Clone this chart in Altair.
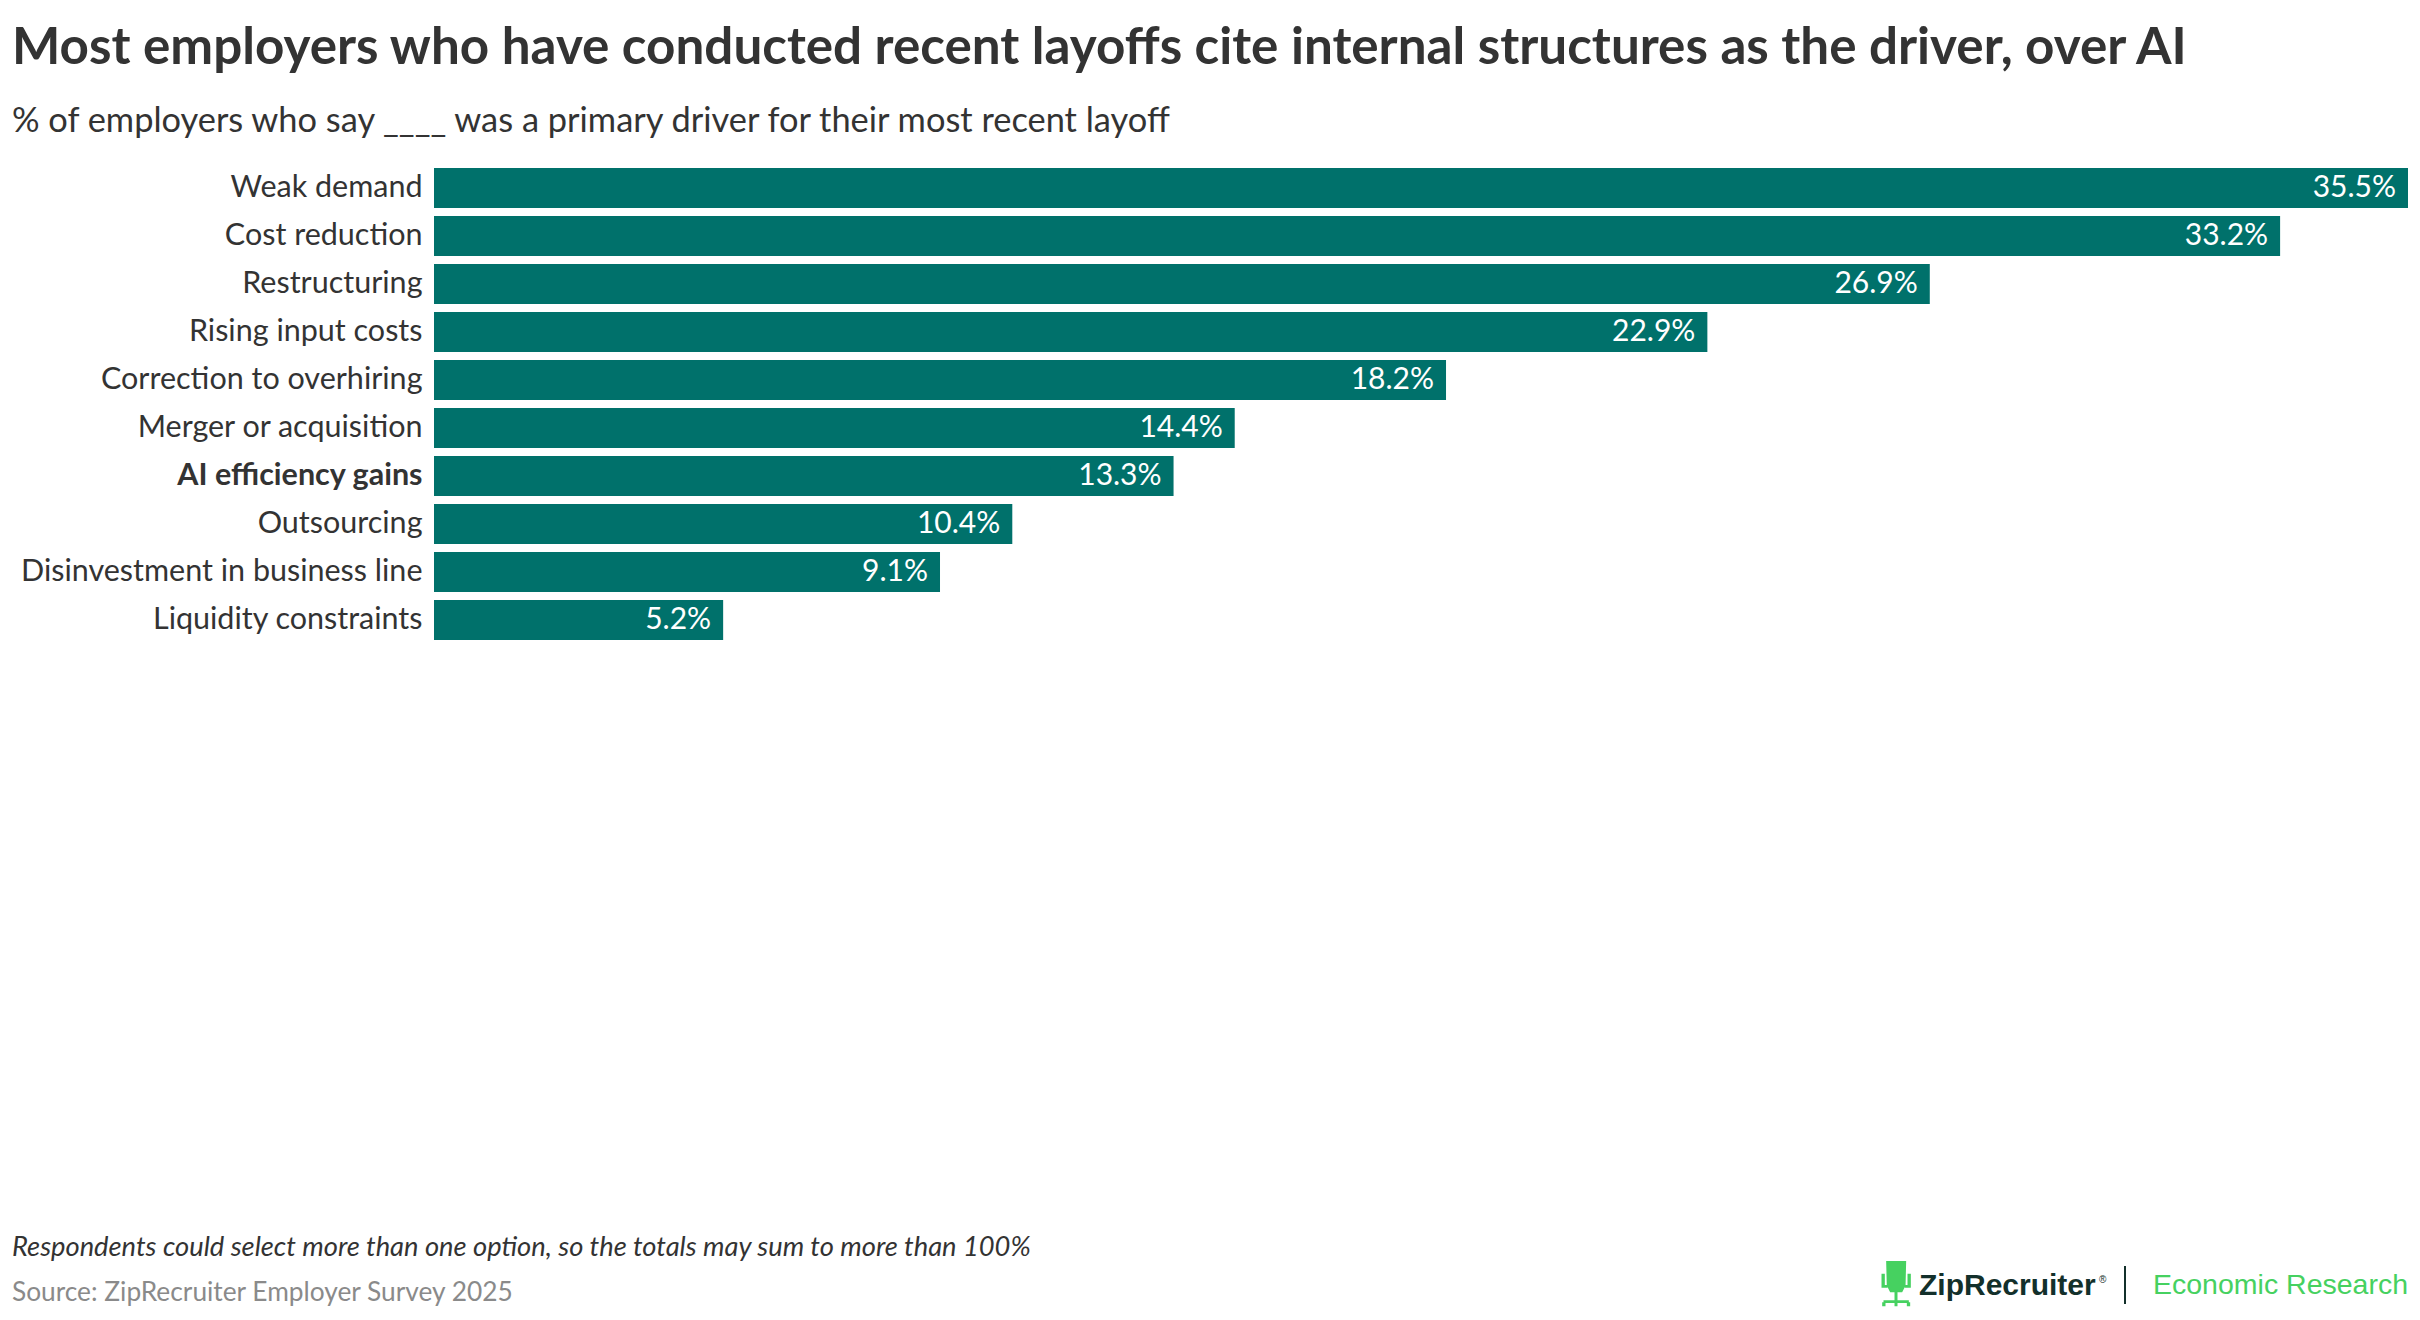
import altair as alt
import pandas as pd

# ---------------- data ----------------
CATEGORIES = [
    "Weak demand",
    "Cost reduction",
    "Restructuring",
    "Rising input costs",
    "Correction to overhiring",
    "Merger or acquisition",
    "AI efficiency gains",
    "Outsourcing",
    "Disinvestment in business line",
    "Liquidity constraints",
]
VALUES = [35.5, 33.2, 26.9, 22.9, 18.2, 14.4, 13.3, 10.4, 9.1, 5.2]
HIGHLIGHT = "AI efficiency gains"

TITLE = "Most employers who have conducted recent layoffs cite internal structures as the driver, over AI"
SUBTITLE = "% of employers who say ____ was a primary driver for their most recent layoff"
NOTE = "Respondents could select more than one option, so the totals may sum to more than 100%"
SOURCE = "Source: ZipRecruiter Employer Survey 2025"
BRAND = "ZipRecruiter"
REG = "®"
UNIT = "Economic Research"

# ---------------- style ----------------
FONT = "Lato"
LOGO_FONT = "Liberation Sans"
TEAL = "#00716b"
TEXT = "#333333"
GREY = "#8a8a8a"
GREEN = "#46d160"
DARK = "#13302b"

PLOT_W = 1974
PLOT_H = 480
PAD_L = 426
PAD_T = 156

CHAIR = (
    "M-0.428,-1 L0.442,-1 L0.413,0.13 L-0.399,0.13 Z "
    "M-0.37,0.13 L0.384,0.13 L0.268,0.362 L-0.254,0.362 Z "
    "M-0.63,-0.449 L-0.486,-0.449 L-0.486,0.043 L-0.37,0.043 L-0.37,0.159 L-0.63,0.159 Z "
    "M0.5,-0.449 L0.645,-0.449 L0.645,0.159 L0.384,0.159 L0.384,0.043 L0.5,0.043 Z "
    "M-0.065,0.362 L0.065,0.362 L0.065,0.739 L-0.065,0.739 Z "
    "M-0.543,0.71 L0.558,0.71 L0.558,0.826 L-0.543,0.826 Z "
    "M-0.601,0.797 L-0.457,0.797 L-0.457,0.971 L-0.601,0.971 Z "
    "M0.471,0.797 L0.616,0.797 L0.616,0.971 L0.471,0.971 Z "
    "M-0.065,0.826 L0.065,0.826 L0.065,0.971 L-0.065,0.971 Z"
)

df = pd.DataFrame({"cause": CATEGORIES, "share": VALUES})
df["label"] = [f"{v:.1f}%" for v in VALUES]

x = alt.X(
    "share:Q",
    scale=alt.Scale(domain=[0, max(VALUES)], nice=False, zero=True),
    axis=None,
)
y = alt.Y(
    "cause:N",
    sort=CATEGORIES,
    scale=alt.Scale(paddingInner=0.1667, paddingOuter=0.0833),
    axis=alt.Axis(
        title=None,
        ticks=False,
        domain=False,
        labelFont=FONT,
        labelFontSize=30.5,
        labelColor=TEXT,
        labelPadding=12,
        labelLimit=1000,
        labelFontWeight={
            "condition": {"test": f"datum.value === '{HIGHLIGHT}'", "value": "bold"},
            "value": "normal",
        },
    ),
)

bars = alt.Chart(df).mark_bar(color=TEAL).encode(x=x, y=y)
values = alt.Chart(df).mark_text(
    align="right", baseline="middle", dx=-12, color="white", fontSize=30, font=FONT
).encode(x=x, y=y, text="label:N")


def note(txt, px, py, **kw):
    return alt.Chart(pd.DataFrame({"t": [txt]})).mark_text(
        align="left", baseline="alphabetic", **kw
    ).encode(text="t:N", x=alt.value(px), y=alt.value(py))


note_l = note(NOTE, 12 - 434, 1256 - 164, font=FONT, fontSize=27.3, fontStyle="italic", color=TEXT)
source_l = note(SOURCE, 12 - 434, 1301 - 164, font=FONT, fontSize=26.3, color=GREY)
brand_l = note(BRAND, 1919 - 434, 1295 - 164, font=LOGO_FONT, fontSize=30, fontWeight="bold", color=DARK)
reg_l = note(REG, 2099 - 434, 1283 - 164, font=LOGO_FONT, fontSize=10, color=DARK)
unit_l = note(UNIT, 2153 - 434, 1294 - 164, font=LOGO_FONT, fontSize=28.5, color=GREEN)

chair = alt.Chart(pd.DataFrame({"t": [BRAND]})).mark_point(
    shape=CHAIR, size=2116, filled=True, color=GREEN, opacity=1, strokeWidth=0
).encode(x=alt.value(1896 - 434), y=alt.value(1284 - 164))

sep = alt.Chart(pd.DataFrame({"t": [BRAND]})).mark_rule(color=DARK, strokeWidth=2).encode(
    x=alt.value(2125 - 434), y=alt.value(1266 - 164), y2=alt.value(1304 - 164)
)

chart = (
    alt.layer(bars, values, note_l, source_l, chair, brand_l, reg_l, sep, unit_l)
    .properties(
        width=PLOT_W,
        height=PLOT_H,
        padding={"left": PAD_L, "top": PAD_T, "right": 4, "bottom": 1304 - PAD_T - PLOT_H},
        autosize="none",
        background="white",
        title=alt.TitleParams(
            text=TITLE,
            subtitle=SUBTITLE,
            anchor="start",
            frame="group",
            dx=12 - 434,
            offset=25,
            font=FONT,
            fontSize=51.2,
            fontWeight="bold",
            color=TEXT,
            subtitleFont=FONT,
            subtitleFontSize=34.4,
            subtitleColor=TEXT,
            subtitlePadding=29,
        ),
    )
    .configure_view(stroke="transparent", strokeWidth=0)
)

chart.save("out.html", embed_options={"renderer": "svg", "actions": False})
